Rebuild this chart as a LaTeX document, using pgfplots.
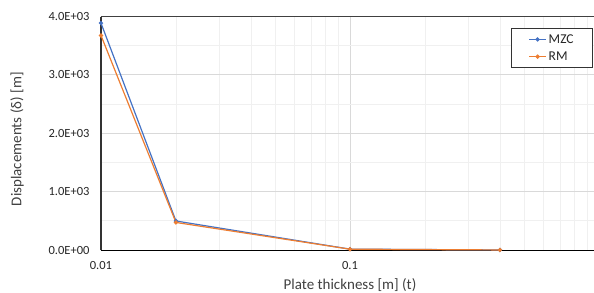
\documentclass[border=0pt]{standalone}
\usepackage{pgfplots}
\pgfplotsset{compat=1.18}
\usepackage{fontspec}
\setmainfont{Carlito}
\definecolor{mzc}{HTML}{4472C4}
\definecolor{rm}{HTML}{ED7D31}
\definecolor{txt}{HTML}{404040}
\definecolor{majg}{HTML}{D9D9D9}
\definecolor{ming}{HTML}{F0F0F0}
\newcommand{\yl}[1]{#1\kern8pt}
\begin{document}
\begin{tikzpicture}[x=1pt,y=1pt]
\path[use as bounding box] (-101,-42) rectangle (493,250);
\begin{axis}[
  at={(0,0)}, anchor=south west, scale only axis,
  width=498pt, height=233.5pt,
  xmode=log, xmin=0.01, xmax=1,
  ymin=0, ymax=4000,
  xtick={0.01,0.1}, xticklabels={0.01,0.1},
  minor xtick={0.02,0.03,0.04,0.05,0.06,0.07,0.08,0.09,0.2,0.3,0.4,0.5,0.6,0.7,0.8,0.9},
  ytick={0,1000,2000,3000,4000},
  yticklabels={\yl{0.0E+00},\yl{1.0E+03},\yl{2.0E+03},\yl{3.0E+03},\yl{4.0E+03}},
  minor ytick={500,1500,2500,3500},
  xmajorgrids, ymajorgrids, xminorgrids, yminorgrids,
  major grid style={majg, line width=0.8pt},
  minor grid style={ming, line width=0.8pt},
  major tick length=0pt, minor tick length=0pt,
  axis line style={draw=none},
  /pgf/number format/assume math mode=true,
  xticklabel style={font=\fontsize{12.5}{14}\selectfont, text=black!85, anchor=north, yshift=-8pt},
  yticklabel style={font=\fontsize{12.5}{14}\selectfont, text=black!85, anchor=east},
  xlabel={Plate thickness [m] (t)},
  ylabel={Displacements (δ) [m]},
  every axis x label/.style={at={(axis description cs:0.5,0)}, yshift=-35pt, anchor=center, font=\fontsize{15}{17}\selectfont, text=txt},
  every axis y label/.style={at={(axis description cs:0,0.5)}, xshift=-84pt, yshift=-6pt, anchor=center, rotate=90, font=\fontsize{15}{17}\selectfont, text=txt},
  legend style={at={(0.988,0.951)}, anchor=north east, draw=black!80, line width=0.8pt,
    font=\fontsize{13.5}{15}\selectfont, text=black!85, inner xsep=17pt, inner ysep=4pt, row sep=3pt},
  legend cell align=left,
  clip=false,
]
\draw[black!75, line width=0.8pt] (rel axis cs:0,1) -- (rel axis cs:1,1);
\draw[black, line width=0.8pt] (rel axis cs:0,0) -- (rel axis cs:1,0);
\draw[black!80, line width=1.6pt] (rel axis cs:0,0) -- (rel axis cs:0,1);
\addplot[mzc, line width=1.2pt, mark=*, mark size=1.5pt] coordinates {
  (0.01,3887) (0.02,497) (0.1,15) (0.4,1)};
\addlegendentry{MZC}
\addplot[rm, line width=1.2pt, mark=*, mark size=1.5pt] coordinates {
  (0.01,3675) (0.02,472) (0.1,14) (0.4,1)};
\addlegendentry{RM}
\end{axis}
\end{tikzpicture}
\end{document}
